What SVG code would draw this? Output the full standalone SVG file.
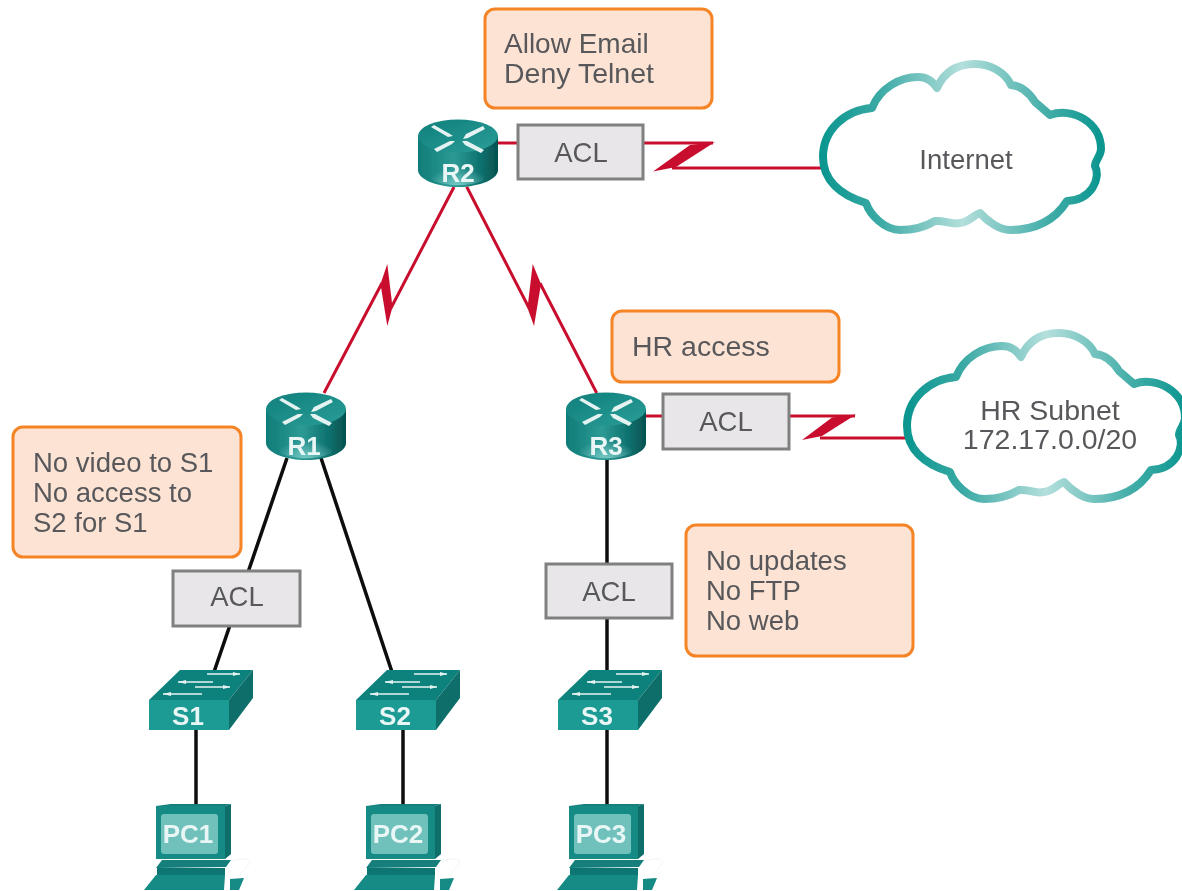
<svg xmlns="http://www.w3.org/2000/svg" width="1182" height="891" viewBox="0 0 1182 891">
<style>
text{font-family:"Liberation Sans",Arial,sans-serif;font-size:27.5px;fill:#58595b}
.c{text-anchor:middle}
.dev{font-weight:bold;fill:#e8f6f5;text-anchor:middle;font-size:26px}
.note{fill:#fde3d3;stroke:#f58426;stroke-width:3}
.acl{fill:#e8e6e8;stroke:#808080;stroke-width:3}
.red{fill:none;stroke:#c8102e;stroke-width:3}
.blk{fill:none;stroke:#0a0a0a;stroke-width:3.5}
.bolt{fill:#c8102e;stroke:none}
.cl{fill:#fff;stroke:url(#cg);stroke-width:8;stroke-linejoin:round}
.wh{fill:#e4f3f2;stroke:none}
.wl{stroke:#e4f3f2;stroke-width:1.5;fill:none}
</style>
<defs>
<filter id="soft" x="0" y="0" width="100%" height="100%" filterUnits="userSpaceOnUse"><feGaussianBlur stdDeviation="0.5"/></filter>
<linearGradient id="cg" x1="0" x2="1" y1="0" y2="0">
<stop offset="0" stop-color="#0c9690"/><stop offset=".2" stop-color="#3aa9a4"/><stop offset=".5" stop-color="#b4dfdc"/><stop offset=".8" stop-color="#45aea9"/><stop offset="1" stop-color="#0c9690"/>
</linearGradient>
<linearGradient id="rb" x1="0" x2="1" y1="0" y2="0">
<stop offset="0" stop-color="#0f7c78"/><stop offset=".45" stop-color="#2d9a95"/><stop offset=".8" stop-color="#0c6f6c"/><stop offset="1" stop-color="#055250"/>
</linearGradient>
<linearGradient id="rt" x1="0" x2="1" y1="0" y2="1">
<stop offset="0" stop-color="#0f7f7b"/><stop offset="1" stop-color="#2b9d98"/>
</linearGradient>
<radialGradient id="glow" cx=".5" cy="1" r=".6">
<stop offset="0" stop-color="#7fcfca" stop-opacity=".9"/><stop offset="1" stop-color="#7fcfca" stop-opacity="0"/>
</radialGradient>
<path id="cloud" class="cl" d="M13,107 C13,80 35,60 62,58 C70,38 90,27 108,27 C115,27 122,30 127,38 C135,20 150,14 165,14 C180,14 195,22 201,35 C212,36 220,44 225,52 L240,65 C262,57 291,72 291,99 C291,106 285,110 285,116 C291,128 282,150 257,151 C245,170 225,180 200,180 C190,180 178,172 170,163 C163,165 160,172 150,173 C140,175 135,170 125,171 C110,180 95,180 90,180 C75,180 60,165 56,153 C30,145 13,130 13,107 Z"/>
<g id="router">
<path d="M-40,0 V34 C-40,43 -22,51 0,51 C22,51 40,43 40,34 V0 Z" fill="url(#rb)"/>
<path d="M-26,44 C-12,51 12,51 26,44 V20 H-26 Z" fill="url(#glow)"/>
<ellipse cx="0" cy="0" rx="40" ry="16.5" fill="url(#rt)"/>
<polygon class="wh" points="-27,-9 -24,-11 -8,-2 -5,0 -10,1"/>
<polygon class="wh" points="25,-10 27,-7 10,2 5,3 8,-2"/>
<polygon class="wh" points="-24,13 -21,16 -6,8 -3,5 -8,5"/>
<polygon class="wh" points="26,14 23,17 7,9 4,5 9,5"/>
</g>
<g id="switch">
<polygon points="0,30 31,0 104,0 80,30" fill="#10827d"/>
<rect x="0" y="30" width="80" height="30" fill="#1c9a94"/>
<polygon points="80,30 104,0 104,28 80,60" fill="#0b6e6a"/>
<path class="wl" d="M58,4 H91 M29,12 H64 M46,17 H81 M14,24 H53"/>
<path class="wh" d="M84,2 L91,4 L84,6 Z M29,12 L37,10 V14 Z M74,15 L81,17 L74,19 Z M14,24 L22,22 V26 Z"/>
</g>
<g id="pc">
<polygon points="0,2 15,0 75,0 69,2" fill="#127f7b"/>
<rect x="0" y="2" width="69" height="53" fill="#148a85"/>
<polygon points="69,2 75,0 75,50 69,55" fill="#0b6e6a"/>
<rect x="5" y="10" width="57" height="40" rx="3" fill="#6fc0bc"/>
<polygon points="6,56 75,56 70,63 0,64" fill="#127f7b"/>
<polygon points="1,64 69,64 69,71 1,71" fill="#0d7672"/>
<polygon points="-12,86 0,71 69,71 68,86" fill="#148a85"/>
<polygon points="74,75 88,74 83,86 74,86" fill="#148a85"/>
<path d="M75,58 C85,53 96,54 93,60 C91,64 86,66 84,72" fill="none" stroke="#f0f5f5" stroke-width="1"/>
</g>
</defs>
<g filter="url(#soft)">
<g id="connectors">
<path class="red" d="M454,187 L391,308 M382,283 L324,393"/>
<polygon class="bolt" points="380.5,284 387.3,264 392.5,307 387.3,326"/>
<path class="red" d="M466.7,186.7 L529,308 M540,283.3 L596.7,393"/>
<polygon class="bolt" points="527.5,308 532.7,264 541,284 534,326"/>
<path class="red" d="M498,143 H518 M643,143 H713 M672,168 H823"/>
<polygon class="bolt" points="690,145 715,142 676,167 653,171.5"/>
<path class="red" d="M646,416 H663 M789,416 H855 M820,438 H907"/>
<polygon class="bolt" points="832,417.5 856,414.5 822,436 802,440"/>
<path class="blk" d="M287,458 L214,672 M321,458 L392,672 M607,460 V672 M196,730 V805 M403,730 V805 M607,730 V805"/>
</g>
<g id="note-r2"><rect class="note" x="485" y="9" width="227" height="99" rx="10"/><text x="504" y="53" style="font-size:28px">Allow Email</text><text x="504" y="83" style="font-size:28.5px">Deny Telnet</text></g>
<g id="note-hr"><rect class="note" x="612" y="311" width="227" height="71" rx="10"/><text x="632" y="356" style="font-size:28.5px">HR access</text></g>
<g id="note-s1"><rect class="note" x="13" y="427" width="228" height="130" rx="10"/><text x="33" y="472">No video to S1</text><text x="33" y="502">No access to</text><text x="33" y="532">S2 for S1</text></g>
<g id="note-s3"><rect class="note" x="686" y="525" width="227" height="131" rx="10"/><text x="706" y="570">No updates</text><text x="706" y="600">No FTP</text><text x="706" y="630">No web</text></g>
<g id="acl-r2"><rect class="acl" x="518" y="125" width="125" height="54"/><text class="c" x="581" y="162">ACL</text></g>
<g id="acl-r3"><rect class="acl" x="663" y="394" width="126" height="55"/><text class="c" x="726" y="431">ACL</text></g>
<g id="acl-s1"><rect class="acl" x="173" y="571" width="127" height="55"/><text class="c" x="237" y="606">ACL</text></g>
<g id="acl-s3"><rect class="acl" x="546" y="564" width="126" height="54"/><text class="c" x="609" y="601">ACL</text></g>
<g id="internet"><use href="#cloud" x="810" y="50"/><text class="c" x="966" y="169">Internet</text></g>
<g id="hr-subnet"><use href="#cloud" x="894" y="319"/><text class="c" x="1050" y="420" style="font-size:28.5px">HR Subnet</text><text class="c" x="1050" y="449" style="font-size:28.5px">172.17.0.0/20</text></g>
<g id="R2"><use href="#router" x="458" y="136"/><text class="dev" x="458" y="182">R2</text></g>
<g id="R1"><use href="#router" x="306" y="409"/><text class="dev" x="304" y="455">R1</text></g>
<g id="R3"><use href="#router" x="606" y="409"/><text class="dev" x="606" y="455">R3</text></g>
<g id="S1"><use href="#switch" x="149" y="670"/><text class="dev" x="188" y="725">S1</text></g>
<g id="S2"><use href="#switch" x="356" y="670"/><text class="dev" x="395" y="725">S2</text></g>
<g id="S3"><use href="#switch" x="558" y="670"/><text class="dev" x="597" y="725">S3</text></g>
<g id="PC1"><use href="#pc" x="156" y="804"/><text class="dev" x="188" y="843">PC1</text></g>
<g id="PC2"><use href="#pc" x="366" y="804"/><text class="dev" x="398" y="843">PC2</text></g>
<g id="PC3"><use href="#pc" x="569" y="804"/><text class="dev" x="601" y="843">PC3</text></g>
</g>
</svg>
